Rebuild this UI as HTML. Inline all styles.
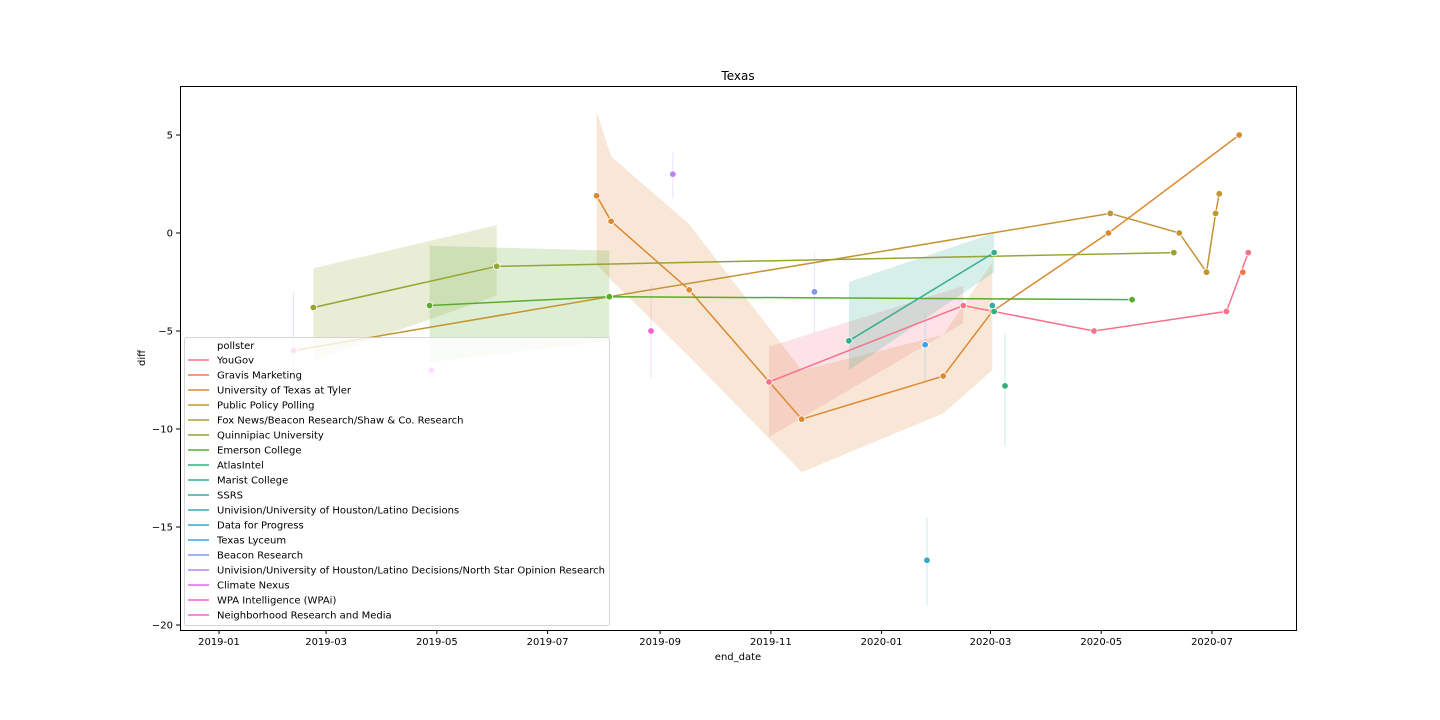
<!DOCTYPE html>
<html><head><meta charset="utf-8"><style>
html,body{margin:0;padding:0;background:#fff;}
svg{display:block;font-family:"DejaVu Sans","Liberation Sans",sans-serif;}
</style></head><body>
<svg id="chart" width="1440" height="720">
<rect x="0" y="0" width="1440" height="720" fill="#fff"/>
<g id="bands"></g><g id="errs"></g><g id="lines"></g><g id="marks"></g>
<rect x="180.5" y="86.5" width="1116" height="544" fill="none" stroke="#000" stroke-width="1"/>
<g id="xaxis"></g><g id="yaxis"></g>
<text x="738" y="80" font-size="12" text-anchor="middle">Texas</text>
<text x="738" y="660" font-size="10" text-anchor="middle">end_date</text>
<text transform="translate(145,358) rotate(-90)" font-size="10" text-anchor="middle">diff</text>
<g id="legend"></g>
</svg>
<script>
const yTicks=[5,0,-5,-10,-15,-20];
const xTickDates=["2019-01-01","2019-03-01","2019-05-01","2019-07-01","2019-09-01","2019-11-01","2020-01-01","2020-03-01","2020-05-01","2020-07-01"];
const xTickLabels=["2019-01","2019-03","2019-05","2019-07","2019-09","2019-11","2020-01","2020-03","2020-05","2020-07"];
const pollsters=["YouGov","Gravis Marketing","University of Texas at Tyler","Public Policy Polling","Fox News/Beacon Research/Shaw & Co. Research","Quinnipiac University","Emerson College","AtlasIntel","Marist College","SSRS","Univision/University of Houston/Latino Decisions","Data for Progress","Texas Lyceum","Beacon Research","Univision/University of Houston/Latino Decisions/North Star Opinion Research","Climate Nexus","WPA Intelligence (WPAi)","Neighborhood Research and Media"];
const colors=["#f77189","#f7754f","#dc8932","#c39532","#ae9d31","#97a431","#5aac2e","#31b07a","#34ae91","#35aca4","#36aab4","#38a8c5","#3ba3ec","#8197f4","#bb83f4","#e866f4","#f45fd5","#f565cc"];
const yougovDates=["2019-10-31","2020-02-15","2020-04-27","2020-07-09","2020-07-21"];
const yougovVals=[-7.6,-3.7,-5,-4,-1];
const yougovLo=[-10.4,-4.6,null,null,null];
const yougovHi=[-5.8,-2.7,null,null,null];
const gravisDates=["2020-07-18"];
const gravisVals=[-2];
const tylerDates=["2019-07-28","2019-08-05","2019-09-17","2019-11-18","2020-02-04","2020-03-02","2020-05-05","2020-07-16"];
const tylerVals=[1.9,0.6,-2.9,-9.5,-7.3,-4,0,5];
const tylerLo=[-1.6,-2.4,-6.3,-12.2,-9.2,-7,null,null];
const tylerHi=[6.2,3.9,0.45,-7,-5.2,-1.5,null,null];
const pppDates=["2019-02-11","2019-08-04","2020-05-06","2020-06-13","2020-06-28","2020-07-03","2020-07-05"];
const pppVals=[-6,-3.25,1,0,-2,1,2];
const quinDates=["2019-02-22","2019-06-03","2020-06-10"];
const quinVals=[-3.8,-1.7,-1];
const quinLo=[-6.5,-3.2,null];
const quinHi=[-1.8,0.4,null];
const emersonDates=["2019-04-27","2019-08-04","2020-05-18"];
const emersonVals=[-3.7,-3.25,-3.4];
const emersonLo=[-6.6,-5.5,null];
const emersonHi=[-0.65,-0.9,null];
const maristDates=["2019-12-14","2020-03-03"];
const maristVals=[-5.5,-1];
const maristLo=[-7,-2];
const maristHi=[-2.5,0];
const singleNames=["AtlasIntel","AtlasIntel","SSRS","Data for Progress","Texas Lyceum","Beacon Research","Univision/University of Houston/Latino Decisions/North Star Opinion Research","WPA Intelligence (WPAi)","Climate Nexus","Neighborhood Research and Media"];
const singleDates=["2020-03-03","2020-03-09","2020-03-02","2020-01-26","2020-01-25","2019-11-25","2019-09-08","2019-08-27","2019-04-28","2019-02-11"];
const singleVals=[-4,-7.8,-3.7,-16.7,-5.7,-3,3,-5,-7,-6];
const singleLo=[null,-10.9,null,-19,-7.6,-5.1,1.8,-7.4,null,-7.5];
const singleHi=[null,-5.1,null,-14.5,-4.1,-1,4.1,-2.7,null,-3];

const NS="http://www.w3.org/2000/svg";
const d0=Date.UTC(2019,0,1);
function dayOf(s){const p=s.split("-");return (Date.UTC(+p[0],+p[1]-1,+p[2])-d0)/86400000;}
function X(s){return 219+dayOf(s)*1.8153;}
function Y(v){return 233-19.6*v;}
function mk(tag,attrs,parent){const e=document.createElementNS(NS,tag);for(const k in attrs)e.setAttribute(k,attrs[k]);parent.appendChild(e);return e;}
const gB=document.getElementById("bands"),gE=document.getElementById("errs"),gL=document.getElementById("lines"),gM=document.getElementById("marks");
function col(name){return colors[pollsters.indexOf(name)];}
function series(name,key,dates,vals,lo,hi){
  const c=col(name);
  if(lo){const idx=[];for(let i=0;i<dates.length;i++)if(lo[i]!==null)idx.push(i);
    if(idx.length>1){let pts=idx.map(i=>X(dates[i])+","+Y(hi[i]));pts=pts.concat(idx.slice().reverse().map(i=>X(dates[i])+","+Y(lo[i])));
      const b=mk("polygon",{points:pts.join(" "),fill:c,"fill-opacity":0.2,stroke:"none"},gB);
      
      }}
  if(dates.length>1){const l=mk("polyline",{points:dates.map((d,i)=>X(d)+","+Y(vals[i])).join(" "),fill:"none",stroke:c,"stroke-width":1.5},gL);
    
    }
  dates.forEach((d,i)=>{const m=mk("circle",{cx:X(d),cy:Y(vals[i]),r:3.3,fill:c,stroke:"#fff","stroke-width":0.8},gM);
    
    });
}
series("YouGov","yougov",yougovDates,yougovVals,yougovLo,yougovHi);
series("Gravis Marketing","gravis",gravisDates,gravisVals,null,null);
series("University of Texas at Tyler","ut-tyler",tylerDates,tylerVals,tylerLo,tylerHi);
series("Public Policy Polling","ppp",pppDates,pppVals,null,null);
series("Quinnipiac University","quinnipiac",quinDates,quinVals,quinLo,quinHi);
series("Emerson College","emerson",emersonDates,emersonVals,emersonLo,emersonHi);
series("Marist College","marist",maristDates,maristVals,maristLo,maristHi);
singleNames.forEach((n,i)=>{const c=col(n);
  if(singleLo[i]!==null){const e=mk("line",{x1:X(singleDates[i]),x2:X(singleDates[i]),y1:Y(singleLo[i]),y2:Y(singleHi[i]),stroke:c,"stroke-opacity":0.25,"stroke-width":1},gE);
    
    }
  const m=mk("circle",{cx:X(singleDates[i]),cy:Y(singleVals[i]),r:3.3,fill:c,stroke:"#fff","stroke-width":0.8},gM);
  
  
});
const gx=document.getElementById("xaxis"),gy=document.getElementById("yaxis");
xTickDates.forEach((d,i)=>{const x=X(d);
  mk("line",{x1:x,x2:x,y1:630,y2:634,stroke:"#000"},gx);
  const t=mk("text",{x:x,y:645,"font-size":10,"text-anchor":"middle"},gx);t.textContent=xTickLabels[i];
  
  });
yTicks.forEach(v=>{const y=Y(v);
  mk("line",{x1:176,x2:180,y1:y,y2:y,stroke:"#000"},gy);
  const t=mk("text",{x:173,y:y+3.5,"font-size":10,"text-anchor":"end"},gy);t.textContent=String(v).replace("-","\u2212");
  
  });
const gLg=document.getElementById("legend");
const box=mk("rect",{x:184.5,y:337.5,width:425,height:288,rx:2,fill:"#fff","fill-opacity":0.8,stroke:"#ccc","stroke-opacity":0.8},gLg);


const ht=mk("text",{x:217,y:349,"font-size":10},gLg);ht.textContent="pollster";


pollsters.forEach((p,i)=>{const y=360+i*15;
  mk("line",{x1:188,x2:209,y1:y,y2:y,stroke:colors[i],"stroke-width":1.5},gLg);
  const t=mk("text",{x:217,y:y+3.5,"font-size":10},gLg);t.textContent=p;
  
  });
</script>
</body></html>
